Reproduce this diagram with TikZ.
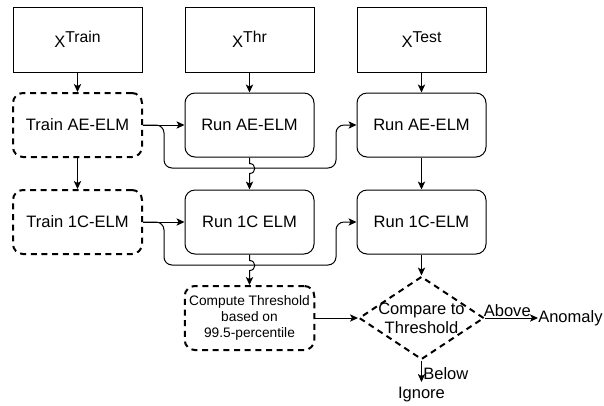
\documentclass[tikz,border=0pt]{standalone}
\usepackage{fontspec}
\setmainfont{Liberation Sans}
\usetikzlibrary{shapes.geometric,arrows.meta}

\newcommand{\xsup}[1]{X\raisebox{4pt}{\fontsize{11.8}{12}\selectfont #1}}

\begin{document}
\begin{tikzpicture}[x=0.75pt, y=-0.75pt,
    every node/.style={font=\fontsize{12.4}{14.5}\selectfont},
    databox/.style={draw, line width=0.75pt, rectangle, minimum width=96.75pt, minimum height=48.75pt},
    runbox/.style={draw, line width=0.75pt, rounded corners=7.5pt, minimum width=96.75pt, minimum height=48pt},
    trainbox/.style={draw, line width=1.5pt, dash pattern=on 4.5pt off 3.5pt, rounded corners=7.5pt, minimum width=96.75pt, minimum height=48pt},
    decision/.style={draw, diamond, line width=1.5pt, dash pattern=on 4.5pt off 3.5pt, inner sep=0pt, minimum width=93.75pt, minimum height=62.25pt},
    conn/.style={line width=0.75pt, -{Stealth[length=6pt, width=5.5pt, inset=1.5pt]}}]
        \useasboundingbox (0,0) rectangle (604,405);

        % Inputs
        \node[databox] (xtrain) at (77.5,39.5) {\xsup{Train}};
        \node[databox] (xthr) at (249.5,39.5) {\xsup{Thr}};
        \node[databox] (xtest) at (421.5,39.5) {\xsup{Test}};

        % AE-ELM row
        \node[trainbox] (trainae) at (77.5,125) {Train AE-ELM};
        \node[runbox] (runaethr) at (249.5,125) {Run AE-ELM};
        \node[runbox] (runaetest) at (421.5,125) {Run AE-ELM};

        % 1C-ELM row
        \node[trainbox] (trainoc) at (77.5,222) {Train 1C-ELM};
        \node[runbox] (runocthr) at (249.5,222) {Run 1C ELM};
        \node[runbox] (runoctest) at (421.5,222) {Run 1C-ELM};

        % Threshold and decision
        \node[trainbox, align=center, font=\fontsize{10.3}{12}\selectfont] (thresh) at (249.5,318) {Compute Threshold\\based on\\99.5-percentile};
        \node[decision, label={[align=center]center:Compare to\\Threshold}] (cmp) at (421.5,318) {};
        \node[anchor=west, inner sep=0pt] (anomaly) at (538,318) {Anomaly};
        \node[anchor=north, inner xsep=1pt, inner ysep=4pt] (ignore) at (421.5,382) {Ignore};

        % Straight arrows
        \draw[conn] (xtrain) -- (trainae);
        \draw[conn] (xthr) -- (runaethr);
        \draw[conn] (xtest) -- (runaetest);
        \draw[conn] (trainae) -- (trainoc);
        \draw[conn] (trainae) -- (runaethr);
        \draw[conn] (trainoc) -- (runocthr);
        \draw[conn] (runaetest) -- (runoctest);
        \draw[conn] (runoctest) -- (cmp.north);
        \draw[conn] (thresh) -- (cmp.west);

        % Models passed on to the test column
        \draw[conn, rounded corners=6pt] (trainae.east) -- ++(21,0) -- ++(0,43) -- ++(172,0) -- ++(0,-43) -- (runaetest.west);
        \draw[conn, rounded corners=6pt] (trainoc.east) -- ++(21,0) -- ++(0,43) -- ++(172,0) -- ++(0,-43) -- (runoctest.west);

        % Arrows hopping over the routes
        \draw[conn] (runaethr.south) -- ++(0,6) .. controls +(7,0) and +(7,0) .. ++(0,10) -- (runocthr.north);
        \draw[conn] (runocthr.south) -- ++(0,6) .. controls +(7,0) and +(7,0) .. ++(0,10) -- (thresh.north);

        % Outcomes
        \draw[conn] (cmp.east) -- (anomaly.west) node[pos=0.42, above, inner sep=1pt] {Above};
        \draw[conn] (cmp.south) -- (ignore.north) node[pos=0.6, right, inner sep=1pt] {Below};
\end{tikzpicture}
\end{document}
